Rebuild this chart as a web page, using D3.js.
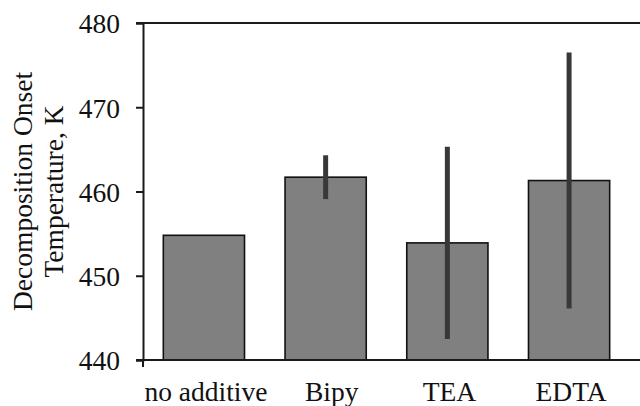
<!DOCTYPE html>
<html>
<head>
<meta charset="utf-8">
<script src="https://cdn.jsdelivr.net/npm/d3@7/dist/d3.min.js"></script>
<style>
  html, body { margin: 0; padding: 0; background: #fff; }
  svg text { font-family: "Liberation Serif", "Times New Roman", serif; fill: #111; }
</style>
</head>
<body>
<svg id="chart" width="640" height="406"></svg>
<script>
// Decomposition onset temperature by additive (mean ± error)
const categories = ["no additive", "Bipy", "TEA", "EDTA"];
const onsetTemps = [454.8, 461.7, 453.9, 461.3];
const errors = [0, 2.6, 11.4, 15.2];
const yTicks = [440, 450, 460, 470, 480];

const svg = d3.select("#chart");
const plotLeft = 143, plotRight = 630, plotTop = 23, plotBottom = 360;
const fontSize = 27.5;

const x = d3.scaleBand()
  .domain(categories)
  .range([plotLeft, plotRight])
  .paddingInner(0.333)
  .paddingOuter(0.167);

const y = d3.scaleLinear().domain([440, 480]).range([plotBottom, plotTop]);

const data = categories.map((c, i) => ({ c, v: onsetTemps[i], e: errors[i] }));

// bars
svg.append("g").selectAll("rect").data(data).join("rect")
  .attr("x", d => x(d.c))
  .attr("y", d => y(d.v))
  .attr("width", x.bandwidth())
  .attr("height", d => y(440) - y(d.v))
  .attr("fill", "#808080")
  .attr("stroke", "#111")
  .attr("stroke-width", 1.6);

// error bars
svg.append("g").selectAll("line").data(data.filter(d => d.e > 0)).join("line")
  .attr("x1", d => x(d.c) + x.bandwidth() / 2)
  .attr("x2", d => x(d.c) + x.bandwidth() / 2)
  .attr("y1", d => y(d.v + d.e))
  .attr("y2", d => y(d.v - d.e))
  .attr("stroke", "#383838")
  .attr("stroke-width", 5);

// y axis
const yAxis = svg.append("g")
  .attr("transform", `translate(${plotLeft},0)`)
  .call(d3.axisLeft(y).tickValues(yTicks).tickSize(7).tickPadding(16).tickFormat(d3.format("d")));
yAxis.select(".domain").attr("stroke", "#1a1a1a").attr("stroke-width", 2);
yAxis.selectAll(".tick line").attr("stroke", "#1a1a1a").attr("stroke-width", 2);
yAxis.selectAll(".tick text")
  .attr("font-size", fontSize)
  .attr("font-family", "Liberation Serif, serif")
  .attr("fill", "#111")
  .attr("dy", "0.36em");

// top frame line
svg.append("line")
  .attr("x1", plotLeft - 7).attr("x2", 640)
  .attr("y1", y(480)).attr("y2", y(480))
  .attr("stroke", "#1a1a1a").attr("stroke-width", 2);

// x axis
const xAxis = svg.append("g")
  .attr("transform", `translate(0,${plotBottom})`)
  .call(d3.axisBottom(x).tickSize(0).tickPadding(21));
xAxis.select(".domain").remove();
xAxis.selectAll(".tick text")
  .attr("font-size", fontSize)
  .attr("font-family", "Liberation Serif, serif")
  .attr("fill", "#111")
  .attr("dx", d => d === "Bipy" ? 6 : 2);
svg.append("line")
  .attr("x1", plotLeft - 7).attr("x2", 640)
  .attr("y1", plotBottom).attr("y2", plotBottom)
  .attr("stroke", "#1a1a1a").attr("stroke-width", 2);
svg.append("line")
  .attr("x1", plotLeft).attr("x2", plotLeft)
  .attr("y1", plotBottom).attr("y2", plotBottom + 7)
  .attr("stroke", "#1a1a1a").attr("stroke-width", 2);

// y axis title, two lines
const title = svg.append("text")
  .attr("transform", `translate(0,${(plotTop + plotBottom) / 2}) rotate(-90)`)
  .attr("text-anchor", "middle")
  .attr("font-size", fontSize);
title.append("tspan").attr("x", 0).attr("y", 32).text("Decomposition Onset");
title.append("tspan").attr("x", 0).attr("y", 63).text("Temperature, K");
</script>
</body>
</html>
